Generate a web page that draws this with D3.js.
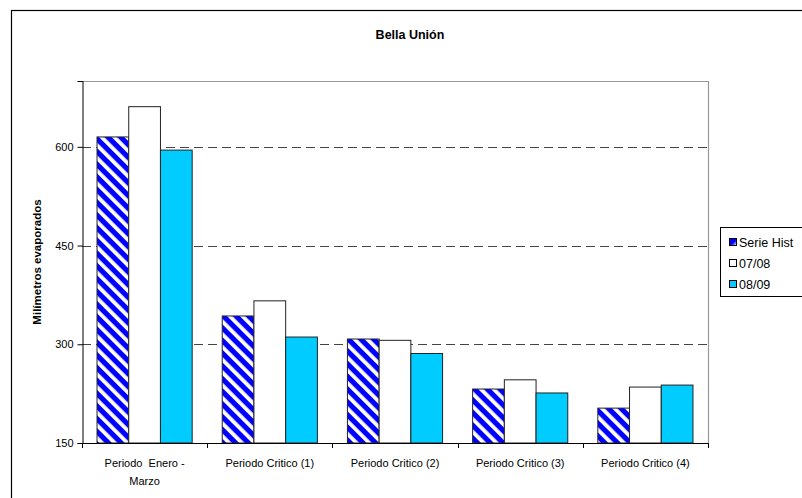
<!DOCTYPE html>
<html>
<head>
<meta charset="utf-8">
<script src="https://cdn.jsdelivr.net/npm/d3@7"></script>
<style>
  html, body { margin: 0; padding: 0; background: #fff; }
  svg { display: block; font-family: "Liberation Sans", Arial, sans-serif; }
</style>
</head>
<body>
<svg id="chart" width="802" height="498"></svg>
<script>
const categories = ["Periodo  Enero -\nMarzo", "Periodo Critico (1)", "Periodo Critico (2)", "Periodo Critico (3)", "Periodo Critico (4)"];
const seriesNames = ["Serie Hist", "07/08", "08/09"];
const serieHistorica = [615, 343, 308, 232, 203];
const s0708 = [661, 366, 306, 246, 235];
const s0809 = [595, 311, 286, 226, 238];
const yTicks = [150, 300, 450, 600];
const title = "Bella Unión";
const yTitle = "Milímetros evaporados";

const seriesValues = [serieHistorica, s0708, s0809];
const fills = ["url(#stripes)", "#ffffff", "#00ccff"];

const svg = d3.select("#chart");
const defs = svg.append("defs");
const pat = defs.append("pattern")
  .attr("id", "stripes")
  .attr("patternUnits", "userSpaceOnUse")
  .attr("width", 9).attr("height", 9)
  .attr("patternTransform", "rotate(-45)");
pat.append("rect").attr("width", 9).attr("height", 9).attr("fill", "#0000ff");
pat.append("rect").attr("x", 0).attr("width", 3.8).attr("height", 9).attr("fill", "#ffffff");
const grad = defs.append("linearGradient").attr("id", "lgmark")
  .attr("x1", "0").attr("y1", "0").attr("x2", "1").attr("y2", "1");
grad.append("stop").attr("offset", "0.55").attr("stop-color", "#0000ff");
grad.append("stop").attr("offset", "1").attr("stop-color", "#ffffff");

// outer chart border
svg.append("rect").attr("x", 11.5).attr("y", 10.5).attr("width", 820).attr("height", 520)
  .attr("fill", "none").attr("stroke", "#000").attr("stroke-width", 1.2);

const plot = { left: 82, right: 708, top: 81, bottom: 443 };

const x = d3.scaleBand().domain(d3.range(categories.length))
  .range([plot.left, plot.right]).paddingInner(0.24).paddingOuter(0.12);
const xs = d3.scaleBand().domain(d3.range(seriesNames.length)).range([0, x.bandwidth()]);
const y = d3.scaleLinear().domain([150, 700]).range([plot.bottom, plot.top]);

// plot frame (top and right in gray)
svg.append("path")
  .attr("d", `M${plot.left},${plot.top + 0.5}H${plot.right + 0.5}V${plot.bottom}`)
  .attr("fill", "none").attr("stroke", "#999").attr("stroke-width", 1.2);

// gridlines
svg.append("g").selectAll("line").data(yTicks.filter(t => t > 150)).join("line")
  .attr("x1", plot.left).attr("x2", plot.right)
  .attr("y1", d => Math.round(y(d)) + 0.5).attr("y2", d => Math.round(y(d)) + 0.5)
  .attr("stroke", "#444").attr("stroke-width", 1).attr("stroke-dasharray", "9,5");

// bars
const groups = svg.append("g").selectAll("g").data(seriesValues).join("g");
groups.selectAll("rect").data((vals, si) => vals.map((v, ci) => ({ v, ci, si }))).join("rect")
  .attr("x", d => x(d.ci) + xs(d.si))
  .attr("y", d => y(d.v))
  .attr("width", xs.bandwidth())
  .attr("height", d => y(150) - y(d.v))
  .attr("fill", d => fills[d.si])
  .attr("stroke", "#222").attr("stroke-width", 1);

// y axis
const yAxis = d3.axisLeft(y).tickValues(yTicks).tickSize(5).tickPadding(4).tickFormat(d3.format("d"));
const ya = svg.append("g").attr("transform", `translate(${plot.left + 0.5},0)`).call(yAxis);
ya.select(".domain").attr("stroke", "#000");
ya.selectAll(".tick line").attr("stroke", "#000");
ya.selectAll("text").attr("font-size", 11).attr("fill", "#000")
  .attr("font-family", "Liberation Sans, Arial, sans-serif");

// x axis with tick marks at category boundaries
const xa = svg.append("g");
xa.append("line").attr("x1", plot.left).attr("x2", plot.right + 1)
  .attr("y1", plot.bottom + 0.5).attr("y2", plot.bottom + 0.5).attr("stroke", "#000");
const step = x.step();
xa.selectAll("line.tk").data(d3.range(categories.length + 1)).join("line")
  .attr("class", "tk")
  .attr("x1", i => Math.round(plot.left + i * step) + 0.5)
  .attr("x2", i => Math.round(plot.left + i * step) + 0.5)
  .attr("y1", plot.bottom).attr("y2", plot.bottom + 5).attr("stroke", "#000");
xa.selectAll("text").data(categories).join("text")
  .attr("text-anchor", "middle")
  .attr("font-size", 11)
  .attr("fill", "#000")
  .attr("transform", (d, i) => `translate(${x(i) + x.bandwidth() / 2},467)`)
  .each(function (d) {
    const lines = d.split("\n");
    d3.select(this).selectAll("tspan").data(lines).join("tspan")
      .attr("x", 0).attr("dy", (l, k) => k === 0 ? 0 : 18)
      .attr("xml:space", "preserve")
      .style("white-space", "pre")
      .text(l => l);
  });

// title
svg.append("text").attr("x", 410).attr("y", 39).attr("text-anchor", "middle")
  .attr("font-size", 12.5).attr("font-weight", "bold").text(title);

// y title
svg.append("text").attr("transform", "translate(41,262) rotate(-90)")
  .attr("text-anchor", "middle").attr("font-size", 11.5).attr("font-weight", "bold")
  .text(yTitle);

// legend
const lg = svg.append("g");
lg.append("rect").attr("x", 720.5).attr("y", 227.5).attr("width", 120).attr("height", 69)
  .attr("fill", "#fff").attr("stroke", "#000");
const rows = lg.selectAll("g").data(seriesNames).join("g")
  .attr("transform", (d, i) => `translate(729,${242 + i * 21})`);
rows.append("rect").attr("x", 0.5).attr("y", -3.5).attr("width", 7).attr("height", 7)
  .attr("fill", (d, i) => i === 0 ? "url(#lgmark)" : fills[i]).attr("stroke", "#000");
rows.append("text").attr("x", 10).attr("y", 4.5).attr("font-size", 12.5).attr("fill", "#000")
  .text(d => d);
</script>
</body>
</html>
